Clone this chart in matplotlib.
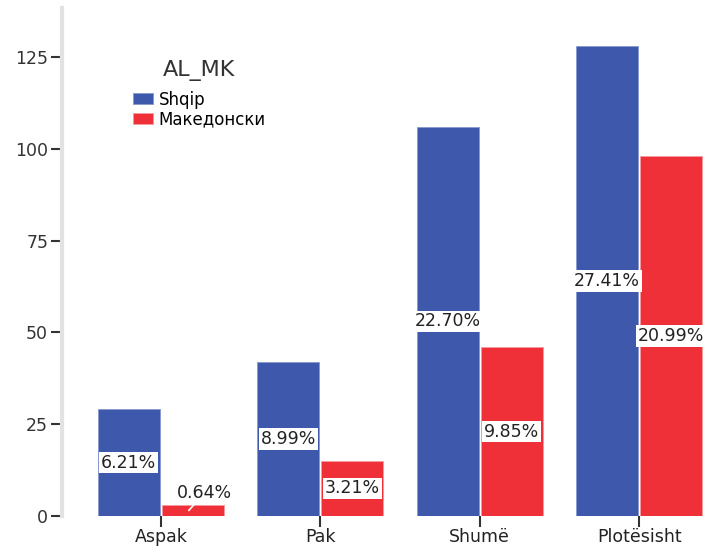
import matplotlib.pyplot as plt
import numpy as np

plt.rcParams['font.family'] = ['DejaVu Sans']

categories = ['Aspak', 'Pak', 'Shumë', 'Plotësisht']
series = ['Shqip', 'Македонски']
shqip = [29, 42, 106, 128]
maked = [3, 15, 46, 98]
shqip_pct = ['6.21%', '8.99%', '22.70%', '27.41%']
maked_pct = ['0.64%', '3.21%', '9.85%', '20.99%']
yticks = [0, 25, 50, 75, 100, 125]

blue = '#3e58ac'
red = '#ef3039'

fig = plt.figure(figsize=(7.17, 5.46), dpi=100)
ax = fig.add_axes([0.0865, 0.055, 0.905, 0.93])

x = np.arange(len(categories))
w = 0.39
ax.bar(x - w/2 - 0.006, shqip, w, color=blue, edgecolor='#8898d0', linewidth=0.6, label=series[0])
ax.bar(x + w/2 + 0.006, maked, w, color=red, edgecolor='#f59aa0', linewidth=0.6, label=series[1])

box = dict(boxstyle='square,pad=0.1', fc='white', ec='none')
for i in range(len(categories)):
    ax.text(x[i] - w/2 - 0.006, shqip[i]/2, shqip_pct[i], ha='center', va='center',
            fontsize=12.5, color='#222222', bbox=box)
    if maked[i] < 8:
        # small bar: label sits above it with a short leader line
        ax.annotate(maked_pct[i], xy=(x[i] + w/2 - 0.02, maked[i]/2),
                    xytext=(x[i] + w/2 + 0.08, maked[i] + 3.3), ha='center', va='center',
                    fontsize=12.5, color='#222222',
                    arrowprops=dict(arrowstyle='-', color='white', lw=1.2, shrinkA=0, shrinkB=0))
    else:
        ax.text(x[i] + w/2 + 0.006, maked[i]/2, maked_pct[i], ha='center', va='center',
                fontsize=12.5, color='#222222', bbox=box)

ax.set_xlim(-0.62, 3.45)
ax.set_ylim(0, 138.3)
ax.set_yticks(yticks)
ax.set_xticks(x)
ax.set_xticklabels(categories)

for s in ['top', 'right', 'bottom']:
    ax.spines[s].set_visible(False)
ax.spines['left'].set_color('#e2e2e2')
ax.spines['left'].set_linewidth(3)
ax.tick_params(axis='y', length=8, width=1.5, color='#333333', labelsize=12.5, labelcolor='#333333', pad=2)
ax.tick_params(axis='x', length=8, width=1.5, color='#333333', labelsize=12.5, labelcolor='#222222', pad=1)

leg = ax.legend(title='AL_MK', loc='upper left', bbox_to_anchor=(133/717, 1 - 60/546),
                bbox_transform=fig.transFigure, frameon=False,
                fontsize=12, title_fontsize=16, handlelength=1.2, handleheight=0.65,
                handletextpad=0.35, labelspacing=0.1, borderpad=0, borderaxespad=0)
leg._legend_box.align = 'center'
leg._legend_box.sep = 7
leg.get_title().set_color('#333333')

fig.savefig('out.png', dpi=100)
